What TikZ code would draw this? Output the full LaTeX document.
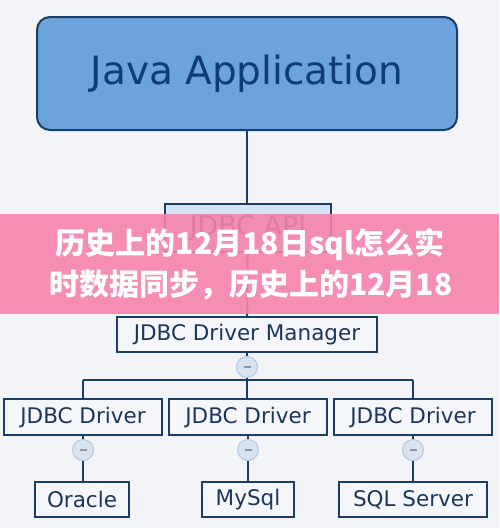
\documentclass[tikz,border=0pt]{standalone}
\usepackage{fontspec}
\setmainfont{DejaVu Sans}
\newfontfamily\cjk{Noto Sans CJK SC}
\definecolor{bg}{HTML}{F3F4F8}
\definecolor{navy}{HTML}{1C3D64}
\definecolor{txt}{HTML}{1B365A}
\definecolor{javatxt}{HTML}{0E3C78}
\definecolor{javafill}{HTML}{6BA4DC}
\definecolor{apifill}{HTML}{D4E3F8}
\definecolor{boxfill}{HTML}{F5F6FA}
\definecolor{circfill}{HTML}{D8E3F2}
\definecolor{circline}{HTML}{B5C6DD}
\definecolor{minuscol}{HTML}{8A98AA}
\definecolor{pinkband}{HTML}{F683AB}
\tikzset{
  conn/.style={draw=navy, line width=2pt},
  jbox/.style={draw=navy, line width=2pt, fill=boxfill, text=txt, inner sep=0pt,
    font=\fontsize{21.5}{21.5}\selectfont},
  minusnode/.style={circle, minimum size=21pt, inner sep=0pt, fill=circfill, draw=circline, line width=1pt},
  bannertext/.style={text=white, font=\cjk\bfseries\fontsize{30}{30}\selectfont, inner sep=0pt}
}
\begin{document}
\begin{tikzpicture}[x=1pt,y=-1pt]
\fill[bg] (0,0) rectangle (499,528);
\useasboundingbox (0,0) rectangle (499,528);

\node[draw=navy, line width=2pt, fill=javafill, rounded corners=13pt, minimum width=420pt, minimum height=113pt,
  text=javatxt, font=\fontsize{39}{39}\selectfont, inner sep=0pt] (java) at (247,73.5) {Java Application};
\node[jbox, fill=apifill, minimum width=166pt, minimum height=48pt, font=\fontsize{27}{27}\selectfont] (api) at (248,228) {JDBC API};
\node[jbox, minimum width=260pt, minimum height=35pt] (mgr) at (247,334.5) {JDBC Driver Manager};

\node[jbox, minimum width=158pt, minimum height=36pt] (d1) at (83,417) {JDBC Driver};
\node[jbox, minimum width=158pt, minimum height=36pt] (d2) at (248,417) {JDBC Driver};
\node[jbox, minimum width=158pt, minimum height=36pt] (d3) at (413,417) {JDBC Driver};

\node[jbox, minimum width=94pt, minimum height=35pt] (o) at (82,499.5) {Oracle};
\node[jbox, minimum width=92pt, minimum height=35pt] (m) at (248,499.5) {MySql};
\node[jbox, minimum width=148pt, minimum height=35pt] (s) at (413,499.5) {SQL Server};

\node[minusnode] (c0) at (247,367) {\textcolor{minuscol}{\rule{7pt}{1.3pt}}};
\node[minusnode] (c1) at (83,450) {\textcolor{minuscol}{\rule{7pt}{1.3pt}}};
\node[minusnode] (c2) at (248,450) {\textcolor{minuscol}{\rule{7pt}{1.3pt}}};
\node[minusnode] (c3) at (413,450) {\textcolor{minuscol}{\rule{7pt}{1.3pt}}};

\coordinate (b1) at (83,380);
\coordinate (b2) at (247,380);
\coordinate (b3) at (413,380);

\draw[conn] (java.south) -- (java.south |- api.north);
\draw[conn] (api) -- (mgr);
\draw[conn] (mgr) -- (c0);
\draw[conn] (c0) -- (b2);
\draw[conn] (b1) -- (b3);
\draw[conn] (b1) -- (d1);
\draw[conn] (b2) -- (b2 |- d2.north);
\draw[conn] (b3) -- (d3);
\draw[conn] (d1.south -| c1) -- (c1);
\draw[conn] (d2.south -| c2) -- (c2);
\draw[conn] (d3.south -| c3) -- (c3);
\draw[conn] (c1) -- (c1 |- o.north);
\draw[conn] (c2) -- (m);
\draw[conn] (c3) -- (s);

\fill[pinkband, opacity=0.9] (0,214) rectangle (499,314);
\node[bannertext] (t1) at (250,245) {历史上的12月18日sql怎么实};
\node[bannertext] (t2) at (251,285) {时数据同步，历史上的12月18};
\end{tikzpicture}
\end{document}
